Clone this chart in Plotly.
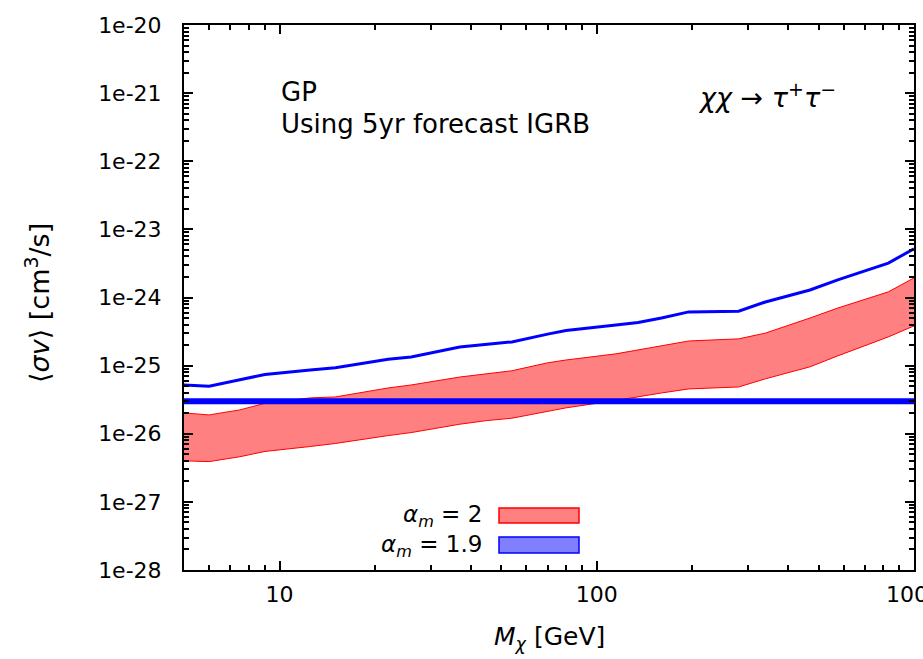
import plotly.graph_objects as go
import math

# ---- data ----
mass = [5, 6, 7.5, 9, 12.5, 15, 22, 26, 37, 45, 54, 70, 80, 115, 135, 160, 195,
        280, 340, 470, 575, 830, 1000]
red_upper = [2.02e-26, 1.89e-26, 2.24e-26, 2.8e-26, 3.36e-26, 3.47e-26, 4.7e-26,
             5.2e-26, 6.8e-26, 7.55e-26, 8.4e-26, 1.1e-25, 1.21e-25, 1.49e-25,
             1.7e-25, 1.95e-25, 2.3e-25, 2.47e-25, 3.0e-25, 5.0e-25, 7.0e-25,
             1.21e-24, 1.94e-24]
red_lower = [4.0e-27, 3.9e-27, 4.6e-27, 5.5e-27, 6.5e-27, 7.2e-27, 9.4e-27,
             1.04e-26, 1.38e-26, 1.56e-26, 1.69e-26, 2.16e-26, 2.4e-26, 3.08e-26,
             3.5e-26, 3.97e-26, 4.55e-26, 4.86e-26, 6.4e-26, 9.6e-26, 1.39e-25,
             2.64e-25, 3.83e-25]
blue_line = [5.2e-26, 5.0e-26, 6.2e-26, 7.4e-26, 8.6e-26, 9.3e-26, 1.24e-25,
             1.34e-25, 1.88e-25, 2.05e-25, 2.23e-25, 2.9e-25, 3.27e-25, 3.96e-25,
             4.3e-25, 5.0e-25, 6.15e-25, 6.3e-25, 8.6e-25, 1.29e-24, 1.81e-24,
             3.2e-24, 5.2e-24]
thermal_relic = 3e-26
x_range = [5, 1000]

y_tickvals = [1e-28, 1e-27, 1e-26, 1e-25, 1e-24, 1e-23, 1e-22, 1e-21, 1e-20]
y_ticktext = ["1e-28", "1e-27", "1e-26", "1e-25", "1e-24", "1e-23", "1e-22", "1e-21", "1e-20"]
x_tickvals = [10, 100, 1000]
x_ticktext = ["10", "100", "1000"]

legend_labels = ["<i>α<sub>m</sub></i> = 2", "<i>α<sub>m</sub></i> = 1.9"]

FONT = "DejaVu Sans"

fig = go.Figure()
fig.add_trace(go.Scatter(x=mass, y=red_lower, mode="lines",
                         line=dict(color="#ff0000", width=1), showlegend=False))
fig.add_trace(go.Scatter(x=mass, y=red_upper, mode="lines", fill="tonexty",
                         fillcolor="#ff8080",
                         line=dict(color="#ff0000", width=1), showlegend=False))
fig.add_trace(go.Scatter(x=mass, y=blue_line, mode="lines",
                         line=dict(color="#0000ff", width=3), showlegend=False))
fig.add_trace(go.Scatter(x=x_range, y=[thermal_relic, thermal_relic], mode="lines",
                         line=dict(color="#0000ff", width=6), showlegend=False))

# plot area geometry (pixels)
L, R, T, B = 184, 914, 25, 570
W, H = 923, 659
def px(x):
    return (x - L) / (R - L)
def py(y):
    return (B - y) / (B - T)

axis_common = dict(
    type="log", showline=True, linecolor="black", linewidth=2, mirror="allticks",
    ticks="inside", ticklen=9, tickwidth=1.5, tickcolor="black", showgrid=False,
    zeroline=False, tickfont=dict(family=FONT, size=22, color="black"),
    ticklabeloverflow="allow", automargin=False,
    minor=dict(ticks="inside", ticklen=5, tickwidth=1.5, tickcolor="black",
               dtick="D1", showgrid=False),
)

fig.update_xaxes(range=[math.log10(x_range[0]), math.log10(x_range[1])],
                 tickvals=x_tickvals, ticktext=x_ticktext, ticklabelstandoff=4,
                 **axis_common)
fig.update_yaxes(range=[-28, -20], tickvals=y_tickvals, ticktext=y_ticktext,
                 ticklabelstandoff=16, **axis_common)

annos = [
    dict(text="GP", x=px(279), y=py(92), xanchor="left", yanchor="middle", s=26),
    dict(text="Using 5yr forecast IGRB", x=px(279), y=py(124), xanchor="left",
         yanchor="middle", s=26),
    dict(text="<i>χχ</i> → <i>τ</i><sup>+</sup><i>τ</i><sup>−</sup>", x=px(767), y=py(95),
         xanchor="center", yanchor="middle", s=27),
    dict(text=legend_labels[0] + "<br>" + legend_labels[1], x=px(484), y=py(531),
         xanchor="right", yanchor="middle", align="right", s=23),
    dict(text="⟨<i>σv</i>⟩ [cm<sup>3</sup>/s]", x=px(38), y=py(303), textangle=-90,
         xanchor="center", yanchor="middle", s=27),
    dict(text="<i>M</i><sub><i>χ</i></sub> [GeV]", x=px(549), y=py(638),
         xanchor="center", yanchor="middle", s=25),
]
for a in annos:
    s = a.pop("s")
    a.update(xref="paper", yref="paper", showarrow=False,
             font=dict(family=FONT, size=s, color="black"))
    fig.add_annotation(**a)

fig.add_shape(type="rect", xref="paper", yref="paper", x0=px(499), x1=px(579),
              y0=py(523), y1=py(508), fillcolor="#ff8080",
              line=dict(color="#ff0000", width=1.5))
fig.add_shape(type="rect", xref="paper", yref="paper", x0=px(499), x1=px(579),
              y0=py(553), y1=py(537), fillcolor="#8080ff",
              line=dict(color="#0000ff", width=1.5))

fig.update_layout(width=W, height=H, margin=dict(l=L, r=W - R, t=T, b=H - B),
                  font=dict(family=FONT, size=22, color="black"),
                  plot_bgcolor="white", paper_bgcolor="white", showlegend=False)
fig.write_html("out.html")
